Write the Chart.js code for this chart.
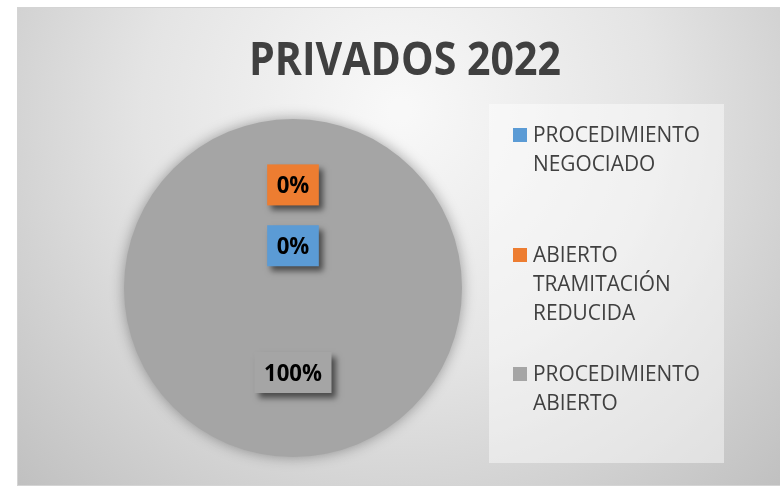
<!DOCTYPE html>
<html>
<head>
<meta charset="utf-8">
<script src="https://cdn.jsdelivr.net/npm/chart.js@4/dist/chart.umd.min.js"></script>
<style>
  body { margin: 0; background: #fff; }
  #wrap { width: 780px; height: 488px; }
</style>
</head>
<body>
<div id="wrap"><canvas id="pie" width="780" height="488"></canvas></div>
<script>
// data
const chartTitle = 'PRIVADOS 2022';
const categories = [
    ['PROCEDIMIENTO', 'NEGOCIADO'],
    ['ABIERTO', 'TRAMITACIÓN', 'REDUCIDA'],
    ['PROCEDIMIENTO', 'ABIERTO']
];
const values = [0, 0, 100];
const colors = ['#5b9bd5', '#ed7d31', '#a5a5a5'];

const TEXT_COLOR = '#404040';
const FONT = '"Open Sans", "Noto Sans", sans-serif';

// the original font is narrow (Calibri), so squeeze text horizontally:
// font size is set from the cap height, the squeeze from a sample width
function squeeze(ctx, weight, capPx, sample, sampleWidth) {
    const size = capPx / 0.714;
    ctx.font = weight + ' ' + size + 'px ' + FONT;
    const sx = sampleWidth / ctx.measureText(sample).width;
    return sx;
}

function drawSqueezed(ctx, text, x, y, sx) {
    ctx.save();
    ctx.translate(x, y);
    ctx.scale(sx, 1);
    ctx.fillText(text, 0, 0);
    ctx.restore();
}

const backgroundPlugin = {
    id: 'background',
    beforeDraw(chart) {
        const ctx = chart.ctx;
        ctx.save();
        ctx.fillStyle = '#ffffff';
        ctx.fillRect(0, 0, chart.width, chart.height);

        // frame with a radial grey fill
        let g = ctx.createRadialGradient(400, 110, 10, 400, 110, 560);
        g.addColorStop(0, '#f8f8f8');
        g.addColorStop(0.45, '#e4e4e4');
        g.addColorStop(1, '#bdbdbd');
        ctx.fillStyle = g;
        ctx.fillRect(17, 7, 780, 478);
        ctx.strokeStyle = '#d4d4d4';
        ctx.lineWidth = 1;
        ctx.strokeRect(17.5, 7.5, 780, 478);

        // title
        let sx = squeeze(ctx, 'bold', 33, chartTitle, 312);
        ctx.fillStyle = TEXT_COLOR;
        ctx.textAlign = 'center';
        ctx.textBaseline = 'alphabetic';
        drawSqueezed(ctx, chartTitle, 405, 75, sx);

        // legend box
        ctx.fillStyle = 'rgba(255,255,255,0.45)';
        ctx.fillRect(489, 104, 235, 359);

        let lsx = squeeze(ctx, 'normal', 15, 'PROCEDIMIENTO', 167);
        ctx.textAlign = 'left';
        const firstBaselines = [142, 262, 381];
        chart.data.labels.forEach((lines, i) => {
            let y = firstBaselines[i];
            ctx.fillStyle = chart.data.datasets[0].backgroundColor[i];
            ctx.fillRect(513, y - 14, 14, 14);
            ctx.fillStyle = TEXT_COLOR;
            lines.forEach((line, j) => {
                drawSqueezed(ctx, line, 533, y + j * 29, lsx);
            });
        });
        ctx.restore();
    }
};

const shadowPlugin = {
    id: 'pieShadow',
    beforeDatasetsDraw(chart) {
        const ctx = chart.ctx;
        ctx.save();
        ctx.shadowColor = 'rgba(0,0,0,0.35)';
        ctx.shadowBlur = 14;
    },
    afterDatasetsDraw(chart) {
        chart.ctx.restore();
    }
};

const labelPlugin = {
    id: 'boxLabels',
    afterDatasetsDraw(chart, args, opts) {
        const ctx = chart.ctx;
        const meta = chart.getDatasetMeta(0);
        const data = chart.data.datasets[0].data;
        const total = data.reduce((a, b) => a + b, 0);
        ctx.save();
        let sx = squeeze(ctx, 'bold', 16, '100%', 58);
        ctx.textAlign = 'center';
        ctx.textBaseline = 'alphabetic';
        meta.data.forEach((arc, i) => {
            const p = arc.getProps(['x', 'y', 'startAngle', 'endAngle', 'outerRadius'], true);
            const mid = (p.startAngle + p.endAngle) / 2;
            const r = p.outerRadius * opts.radius[i];
            const x = p.x + Math.cos(mid) * r;
            const y = p.y + Math.sin(mid) * r;
            const text = Math.round(data[i] / total * 100) + '%';
            const w = ctx.measureText(text).width * sx + 19;
            const h = 41;
            ctx.save();
            ctx.shadowColor = 'rgba(0,0,0,0.55)';
            ctx.shadowBlur = 6;
            ctx.shadowOffsetX = 4;
            ctx.shadowOffsetY = 5;
            ctx.fillStyle = chart.data.datasets[0].backgroundColor[i];
            ctx.fillRect(x - w / 2, y - h / 2, w, h);
            ctx.restore();
            ctx.fillStyle = '#000000';
            drawSqueezed(ctx, text, x, y + 8, sx);
        });
        ctx.restore();
    }
};

new Chart(document.getElementById('pie'), {
    type: 'pie',
    data: {
        labels: categories,
        datasets: [{
            data: values,
            backgroundColor: colors,
            borderWidth: 0,
            hoverOffset: 0
        }]
    },
    options: {
        responsive: false,
        animation: false,
        layout: {
            padding: { left: 124, right: 318, top: 119, bottom: 31 }
        },
        plugins: {
            legend: { display: false },
            title: { display: false },
            tooltip: { enabled: false },
            boxLabels: { radius: [0.25, 0.61, 0.5] }
        }
    },
    plugins: [backgroundPlugin, shadowPlugin, labelPlugin]
});
</script>
</body>
</html>
